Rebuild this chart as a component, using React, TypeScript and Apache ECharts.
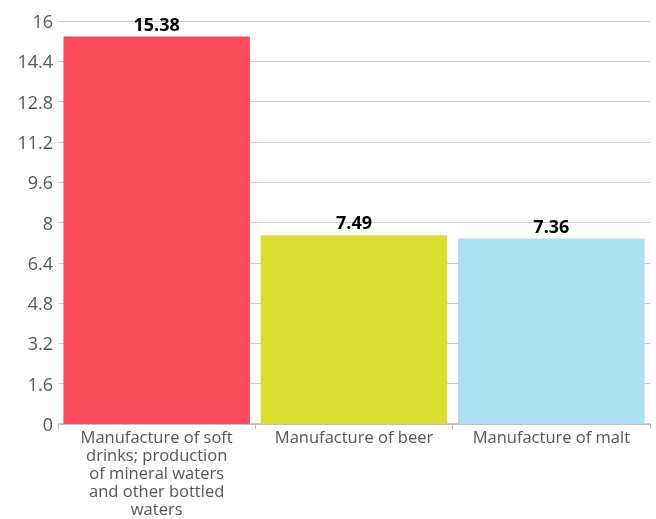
import React, { useEffect, useRef } from "react";
import * as echarts from "echarts";

const categories = [
  "Manufacture of soft drinks; production of mineral waters and other bottled waters",
  "Manufacture of beer",
  "Manufacture of malt",
];
const values = [15.38, 7.49, 7.36];
const colors = ["#F94B5B", "#D9E032", "#ADE0F3"];
const yTicks = [0, 1.6, 3.2, 4.8, 6.4, 8, 9.6, 11.2, 12.8, 14.4, 16];

function wrap(s: string, max: number): string {
  const words = s.split(" ");
  const lines: string[] = [];
  let cur = "";
  for (const w of words) {
    if (!cur) cur = w;
    else if ((cur + " " + w).length <= max) cur += " " + w;
    else {
      lines.push(cur);
      cur = w;
    }
  }
  if (cur) lines.push(cur);
  return lines.join("\n");
}

export default function App() {
  const ref = useRef<HTMLDivElement>(null);
  useEffect(() => {
    const chart = echarts.init(ref.current!, null, { renderer: "svg" });
    const font = "'Open Sans', 'Noto Sans', sans-serif";
    chart.setOption({
      animation: false,
      grid: { left: 58, right: 6, top: 21, bottom: 95, containLabel: false },
      xAxis: {
        type: "category",
        data: categories,
        axisLine: { lineStyle: { color: "#bbbbbb", width: 1.5 } },
        axisTick: { show: true, length: 5, lineStyle: { color: "#bbbbbb" } },
        axisLabel: {
          color: "#555555",
          fontFamily: font,
          fontSize: 16.5,
          lineHeight: 18.2,
          interval: 0,
          margin: 3,
          formatter: (v: string) => wrap(v, 19),
        },
      },
      yAxis: {
        type: "value",
        min: yTicks[0],
        max: yTicks[yTicks.length - 1],
        interval: 1.6,
        axisLine: { show: false },
        axisTick: { show: false },
        splitLine: { lineStyle: { color: "#cccccc", width: 1 } },
        axisLabel: {
          color: "#555555",
          fontFamily: font,
          fontSize: 18,
          margin: 5,
          formatter: (v: number) => String(Math.round(v * 10) / 10),
        },
      },
      series: [
        {
          type: "bar",
          data: values.map((v, i) => ({ value: v, itemStyle: { color: colors[i] } })),
          barCategoryGap: "5.5%",
          label: {
            show: true,
            position: "top",
            distance: 4,
            color: "#000000",
            fontFamily: font,
            fontWeight: "bold",
            fontSize: 18,
          },
        },
      ],
    });
    return () => chart.dispose();
  }, []);
  return (
    <div
      ref={ref}
      style={{ position: "fixed", left: 0, top: 0, width: 656, height: 519 }}
    />
  );
}
